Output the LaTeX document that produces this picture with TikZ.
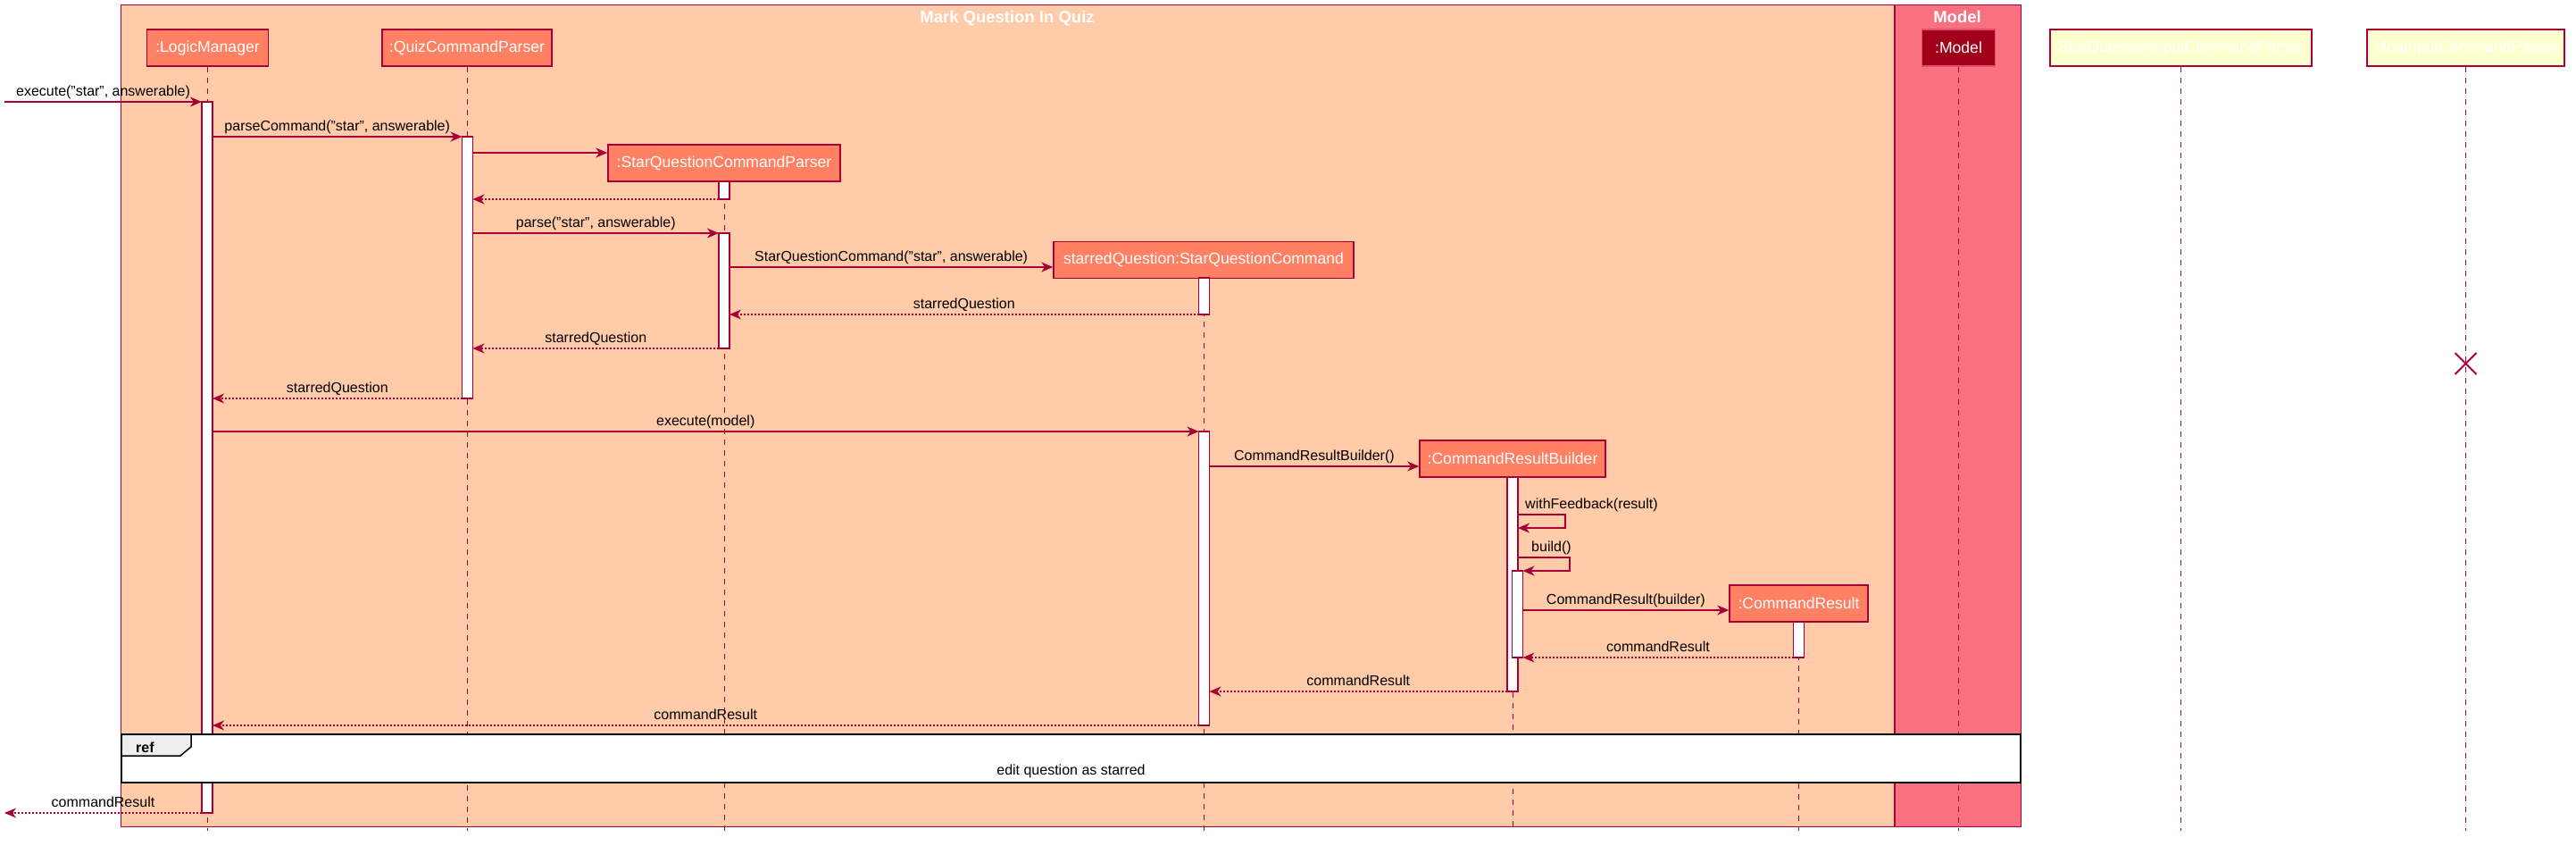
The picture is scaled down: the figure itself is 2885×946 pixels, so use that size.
\documentclass[tikz,border=0pt]{standalone}
\usepackage{fontspec}
\setmainfont{Liberation Sans}
\usetikzlibrary{arrows.meta}
\definecolor{crim}{HTML}{A80036}
\definecolor{peach}{HTML}{FFCBA8}
\definecolor{salmon}{HTML}{FF8062}
\definecolor{modelbg}{HTML}{F97181}
\definecolor{modeldark}{HTML}{A00018}
\definecolor{modelborder}{HTML}{E0506E}
\definecolor{notebg}{HTML}{FEFECE}
\definecolor{tabgray}{HTML}{EEEEEE}
\newcommand{\msgfont}{\fontsize{16}{19}\selectfont}
\newcommand{\partfont}{\fontsize{17.6}{21}\selectfont}
\newcommand{\ttlfont}{\fontsize{18.5}{22}\selectfont\bfseries}
\begin{document}
\begin{tikzpicture}[x=1pt,y=-1pt,
  framebox/.style={draw=crim, line width=1pt, inner sep=0, outer sep=0, anchor=north west},
  ttl/.style={text=white, font=\ttlfont, anchor=base, inner sep=0},
  part/.style={draw=crim, line width=1.5pt, fill=salmon, text=white, font=\partfont, inner sep=0, minimum height=41pt},
  modelpart/.style={part, draw=modelborder, fill=modeldark},
  yellowpart/.style={part, fill=notebg},
  lifeline/.style={draw=crim, line width=1pt, dash pattern=on 6pt off 6pt},
  actbar/.style={draw=crim, line width=1.2pt, fill=white, inner sep=0, outer sep=0, minimum width=12pt},
  msg/.style={draw=crim, line width=1.2pt, -{Stealth[length=13pt, width=11pt, inset=4pt]}},
  ret/.style={msg, dash pattern=on 2pt off 2pt},
  lbl/.style={anchor=base, yshift=7pt, font=\msgfont, inner sep=0, text=black},
  selflbl/.style={anchor=base west, font=\msgfont, inner sep=0, text=black},
  refbox/.style={draw=black, line width=2pt, fill=white, inner sep=0, outer sep=0, anchor=north west}
]
\useasboundingbox (0,0) rectangle (2885,946);

% frames
\node[framebox, fill=peach, minimum width=1986pt, minimum height=920pt] (fQuiz) at (135,5) {};
\node[framebox, fill=modelbg, minimum width=141pt, minimum height=920pt] (fModel) at (2122,5) {};
\node[ttl] (tQuiz) at (1128,25) {Mark Question In Quiz};
\node[ttl] (tModel) at (2192,25) {Model};

% participants
\node[part, minimum width=136pt] (pLM) at (232.5,53.5) {:LogicManager};
\node[part, minimum width=190pt] (pQCP) at (523,53.5) {:QuizCommandParser};
\node[part, minimum width=260pt] (pSP) at (811,182.5) {:StarQuestionCommandParser};
\node[part, minimum width=336pt] (pSQ) at (1348,291) {starredQuestion:StarQuestionCommand};
\node[part, minimum width=208pt] (pCRB) at (1694,513.5) {:CommandResultBuilder};
\node[part, minimum width=155pt] (pCR) at (2014.5,675.5) {:CommandResult};
\node[modelpart, minimum width=82pt] (pModel) at (2193.5,53.5) {:Model};
\node[yellowpart, minimum width=293pt] (pSI) at (2442.5,53.5) {StarQuestionInputCommandParser};
\node[yellowpart, minimum width=221pt] (pMI) at (2761.5,53.5) {McqInputCommandParser};

% lifelines
\coordinate (bot) at (0,930);
\foreach \p in {pLM,pQCP,pSP,pSQ,pCRB,pCR,pModel,pSI,pMI}{
  \draw[lifeline] (\p.south) -- (\p.south |- bot);
}
% destroy mark
\coordinate (xMI) at (2761.5,407);
\draw[crim, line width=2pt] ([shift={(-12pt,12pt)}]xMI) -- ([shift={(12pt,-12pt)}]xMI)
      ([shift={(-12pt,-12pt)}]xMI) -- ([shift={(12pt,12pt)}]xMI);

% activation bars
\node[actbar, minimum height=796pt] (aLM) at (232,512) {};
\node[actbar, minimum height=293pt] (aQCP) at (523.5,299.5) {};
\node[actbar, minimum height=20pt] (aSP1) at (811,213) {};
\node[actbar, minimum height=129pt] (aSP2) at (811,325.5) {};
\node[actbar, minimum height=41pt] (aSQ1) at (1348.5,331.5) {};
\node[actbar, minimum height=329pt] (aSQ2) at (1348.5,647.5) {};
\node[actbar, minimum height=240pt] (aCRB) at (1694,654) {};
\node[actbar, minimum height=97pt] (aCRB2) at (1699.5,687.5) {};
\node[actbar, minimum height=40pt] (aCR) at (2014.5,716) {};

% messages
\coordinate (ext) at (5,0);
\draw[msg] (ext |- 0,114) -- node[lbl] {execute("star", answerable)} (aLM.west |- 0,114);
\draw[msg] (aLM.east |- 0,153) -- node[lbl] {parseCommand("star", answerable)} (aQCP.west |- 0,153);
\draw[msg] (aQCP.east |- 0,171) -- (pSP.west |- 0,171);
\draw[ret] (aSP1.west |- 0,223) -- (aQCP.east |- 0,223);
\draw[msg] (aQCP.east |- 0,261) -- node[lbl] {parse("star", answerable)} (aSP2.west |- 0,261);
\draw[msg] (aSP2.east |- 0,299) -- node[lbl] {StarQuestionCommand("star", answerable)} (pSQ.west |- 0,299);
\draw[ret] (aSQ1.west |- 0,352) -- node[lbl] {starredQuestion} (aSP2.east |- 0,352);
\draw[ret] (aSP2.west |- 0,390) -- node[lbl] {starredQuestion} (aQCP.east |- 0,390);
\draw[ret] (aQCP.west |- 0,446) -- node[lbl] {starredQuestion} (aLM.east |- 0,446);
\draw[msg] (aLM.east |- 0,483) -- node[lbl] {execute(model)} (aSQ2.west |- 0,483);
\draw[msg] (aSQ2.east |- 0,522) -- node[lbl] {CommandResultBuilder()} (pCRB.west |- 0,522);
\draw[msg] (aCRB.east |- 0,576) -- ++(53,0) -- ++(0,15) -- (aCRB.east |- 0,591);
\node[selflbl] (lWF) at (1708,569) {withFeedback(result)};
\draw[msg] (aCRB.east |- 0,624) -- ++(58,0) -- ++(0,15) -- (aCRB2.east |- 0,639);
\node[selflbl] (lB) at (1715,617) {build()};
\draw[msg] (aCRB2.east |- 0,683) -- node[lbl] {CommandResult(builder)} (pCR.west |- 0,683);
\draw[ret] (aCR.west |- 0,736) -- node[lbl] {commandResult} (aCRB2.east |- 0,736);
\draw[ret] (aCRB.west |- 0,774) -- node[lbl] {commandResult} (aSQ2.east |- 0,774);
\draw[ret] (aSQ2.west |- 0,812) -- node[lbl] {commandResult} (aLM.east |- 0,812);

% ref
\node[refbox, minimum width=2127pt, minimum height=54pt] (ref) at (136,822) {};
\draw[draw=black, fill=tabgray, line width=1.5pt] (ref.north west) -- ++(78,0) -- ++(0,14) -- ++(-12,10) -- (ref.north west |- 0,846) -- cycle;
\node[anchor=base west, font=\msgfont\bfseries, inner sep=0] (lRef) at (152,842) {ref};
\node[anchor=base, font=\msgfont, inner sep=0] (lEdit) at (1199.5,867) {edit question as starred};

\draw[ret] (aLM.west |- 0,910) -- node[lbl] {commandResult} (ext |- 0,910);
\end{tikzpicture}
\end{document}
